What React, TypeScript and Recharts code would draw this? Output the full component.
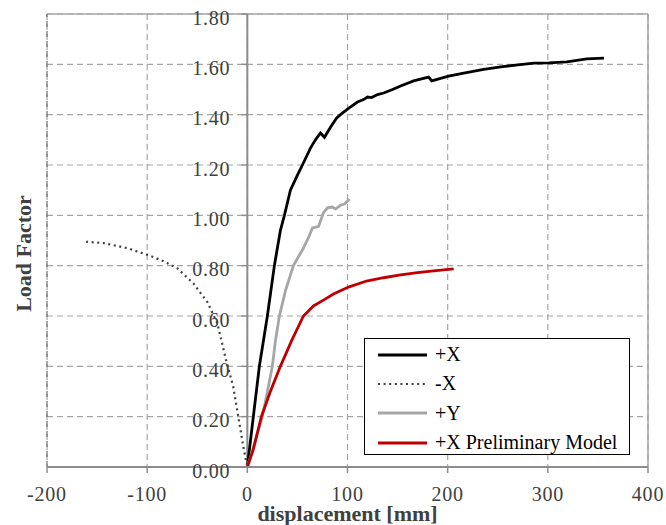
import React from "react";
import {
  LineChart,
  Line,
  XAxis,
  YAxis,
  CartesianGrid,
  ReferenceLine,
  Legend,
} from "recharts";

// displacement [mm] / load factor pairs
const PLUS_X_DISP = [0, 6, 12, 20, 27, 33, 37, 43, 50, 55, 63, 68, 73, 77, 83, 89, 93, 101, 110, 116, 120, 124, 130, 136, 145, 153, 166, 181, 184, 201, 216, 236, 253, 270, 286, 301, 319, 339, 356];
const PLUS_X_LOAD = [0, 0.2, 0.4, 0.6, 0.8, 0.94, 1.0, 1.1, 1.16, 1.2, 1.267, 1.3, 1.327, 1.31, 1.35, 1.386, 1.4, 1.425, 1.45, 1.46, 1.47, 1.468, 1.48, 1.486, 1.5, 1.514, 1.534, 1.549, 1.534, 1.553, 1.565, 1.58, 1.59, 1.598, 1.605, 1.606, 1.61, 1.622, 1.625];

const MINUS_X_DISP = [-161, -144, -120, -99, -85, -70, -54, -40, -30, -22, -14, -9, -4, 0];
const MINUS_X_LOAD = [0.895, 0.89, 0.87, 0.842, 0.82, 0.79, 0.73, 0.656, 0.572, 0.437, 0.318, 0.199, 0.08, 0];

const PLUS_Y_DISP = [0, 4, 8, 15, 20, 25, 28, 32, 38, 46, 56, 62, 65, 71, 76, 80, 85, 88, 93, 97, 102];
const PLUS_Y_LOAD = [0, 0.05, 0.107, 0.2, 0.3, 0.4, 0.5, 0.6, 0.7, 0.8, 0.87, 0.92, 0.95, 0.955, 1.01, 1.03, 1.033, 1.025, 1.04, 1.045, 1.065];

const PRELIM_DISP = [0, 6, 14, 23, 33, 44, 56, 66, 76, 86, 101, 119, 136, 153, 170, 186, 206];
const PRELIM_LOAD = [0, 0.07, 0.2, 0.3, 0.4, 0.5, 0.6, 0.64, 0.663, 0.687, 0.715, 0.739, 0.752, 0.763, 0.772, 0.779, 0.787];

const X_TICKS = [-200, -100, 0, 100, 200, 300, 400];
const Y_TICKS = [0, 0.2, 0.4, 0.6, 0.8, 1.0, 1.2, 1.4, 1.6, 1.8];

const pairs = (xs: number[], ys: number[]) => xs.map((x, i) => ({ x, y: ys[i] }));

const SERIES = [
  { name: "+X", data: pairs(PLUS_X_DISP, PLUS_X_LOAD), color: "#000000", width: 2.8, dash: undefined },
  { name: "-X", data: pairs(MINUS_X_DISP, MINUS_X_LOAD), color: "#404040", width: 2.2, dash: "2 3.6" },
  { name: "+Y", data: pairs(PLUS_Y_DISP, PLUS_Y_LOAD), color: "#a6a6a6", width: 2.8, dash: undefined },
  { name: "+X Preliminary Model", data: pairs(PRELIM_DISP, PRELIM_LOAD), color: "#c00000", width: 2.8, dash: undefined },
];

const W = 666;
const H = 525;
const MARGIN = { top: 14, right: 18, left: 46, bottom: 0 };
const Y_AXIS_W = 1;
const PLOT_LEFT = MARGIN.left + Y_AXIS_W;
const PLOT_W = W - PLOT_LEFT - MARGIN.right;
const X_MIN = -200;
const X_MAX = 400;
// y axis sits on displacement = 0
const X0 = PLOT_LEFT + ((0 - X_MIN) / (X_MAX - X_MIN)) * PLOT_W;

const FONT = "Liberation Serif";
const TEXT = "#404040";
const AXIS = "#8c8c8c";
const GRID = "#a6a6a6";
const TICK_STYLE = { fontFamily: FONT, fontSize: 20, fill: TEXT, letterSpacing: 0.8 };

const renderYTick = (props: any) => {
  const { y, payload } = props;
  return (
    <g key={`yt-${payload.value}`}>
      <line x1={X0 - 6} x2={X0} y1={y} y2={y} stroke={AXIS} strokeWidth={1.5} />
      <text x={X0 - 17} y={y + 10.5} textAnchor="end" style={TICK_STYLE}>
        {Number(payload.value).toFixed(2)}
      </text>
    </g>
  );
};

const renderYLabel = (props: any) => {
  const vb = props.viewBox || { x: PLOT_LEFT, y: MARGIN.top, height: 453 };
  const x = vb.x - 23;
  const y = vb.y + vb.height / 2 + 13;
  return (
    <text
      x={x}
      y={y}
      transform={`rotate(-90 ${x} ${y})`}
      textAnchor="middle"
      dominantBaseline="central"
      style={{ fontFamily: FONT, fontSize: 22, fontWeight: "bold", fill: TEXT }}
    >
      Load Factor
    </text>
  );
};

function LegendBox() {
  return (
    <div
      style={{
        width: 266,
        height: 117,
        boxSizing: "border-box",
        border: "1px solid #000",
        background: "#fff",
        paddingTop: 1,
        fontFamily: FONT,
        fontSize: 20,
        color: "#000",
      }}
    >
      {SERIES.map((s) => (
        <div
          key={s.name}
          style={{ height: 29.3, display: "flex", alignItems: "center", whiteSpace: "nowrap" }}
        >
          <svg width={70} height={12} style={{ flex: "none" }}>
            <line
              x1={13}
              x2={62}
              y1={6}
              y2={6}
              stroke={s.color}
              strokeWidth={s.width}
              strokeDasharray={s.dash}
            />
          </svg>
          <span>{s.name}</span>
        </div>
      ))}
    </div>
  );
}

export default function App() {
  return (
    <div style={{ position: "absolute", left: 0, top: 0, width: W, height: H, background: "#fff" }}>
      <LineChart width={W} height={H} margin={MARGIN}>
        <CartesianGrid stroke={GRID} strokeDasharray="6 4" strokeWidth={1.2} />
        <XAxis
          type="number"
          dataKey="x"
          domain={[X_MIN, X_MAX]}
          ticks={X_TICKS}
          allowDataOverflow
          height={58}
          axisLine={{ stroke: AXIS, strokeWidth: 2 }}
          tickLine={{ stroke: AXIS, strokeWidth: 1.5 }}
          tickSize={6}
          tickMargin={14}
          tick={TICK_STYLE}
          label={{
            value: "displacement [mm]",
            position: "insideBottom",
            offset: 4,
            style: { fontFamily: FONT, fontSize: 22, fontWeight: "bold", fill: TEXT },
          }}
        />
        <YAxis
          type="number"
          dataKey="y"
          domain={[0, 1.8]}
          ticks={Y_TICKS}
          width={Y_AXIS_W}
          axisLine={false}
          tickLine={false}
          tick={renderYTick}
          label={renderYLabel}
        />
        <ReferenceLine y={1.8} stroke={GRID} strokeWidth={1.5} />
        <ReferenceLine x={400} stroke={GRID} strokeWidth={1.5} />
        <ReferenceLine x={-200} stroke="#707070" strokeDasharray="6 4" strokeWidth={1.2} />
        <ReferenceLine x={0} stroke={AXIS} strokeWidth={2} />
        {SERIES.map((s) => (
          <Line
            key={s.name}
            data={s.data}
            dataKey="y"
            name={s.name}
            type="linear"
            stroke={s.color}
            strokeWidth={s.width}
            strokeDasharray={s.dash}
            dot={false}
            activeDot={false}
            isAnimationActive={false}
          />
        ))}
        <Legend
          layout="vertical"
          align="center"
          verticalAlign="middle"
          content={<LegendBox />}
          wrapperStyle={{ left: 364, top: 338, width: 266, height: 117 }}
        />
      </LineChart>
    </div>
  );
}
